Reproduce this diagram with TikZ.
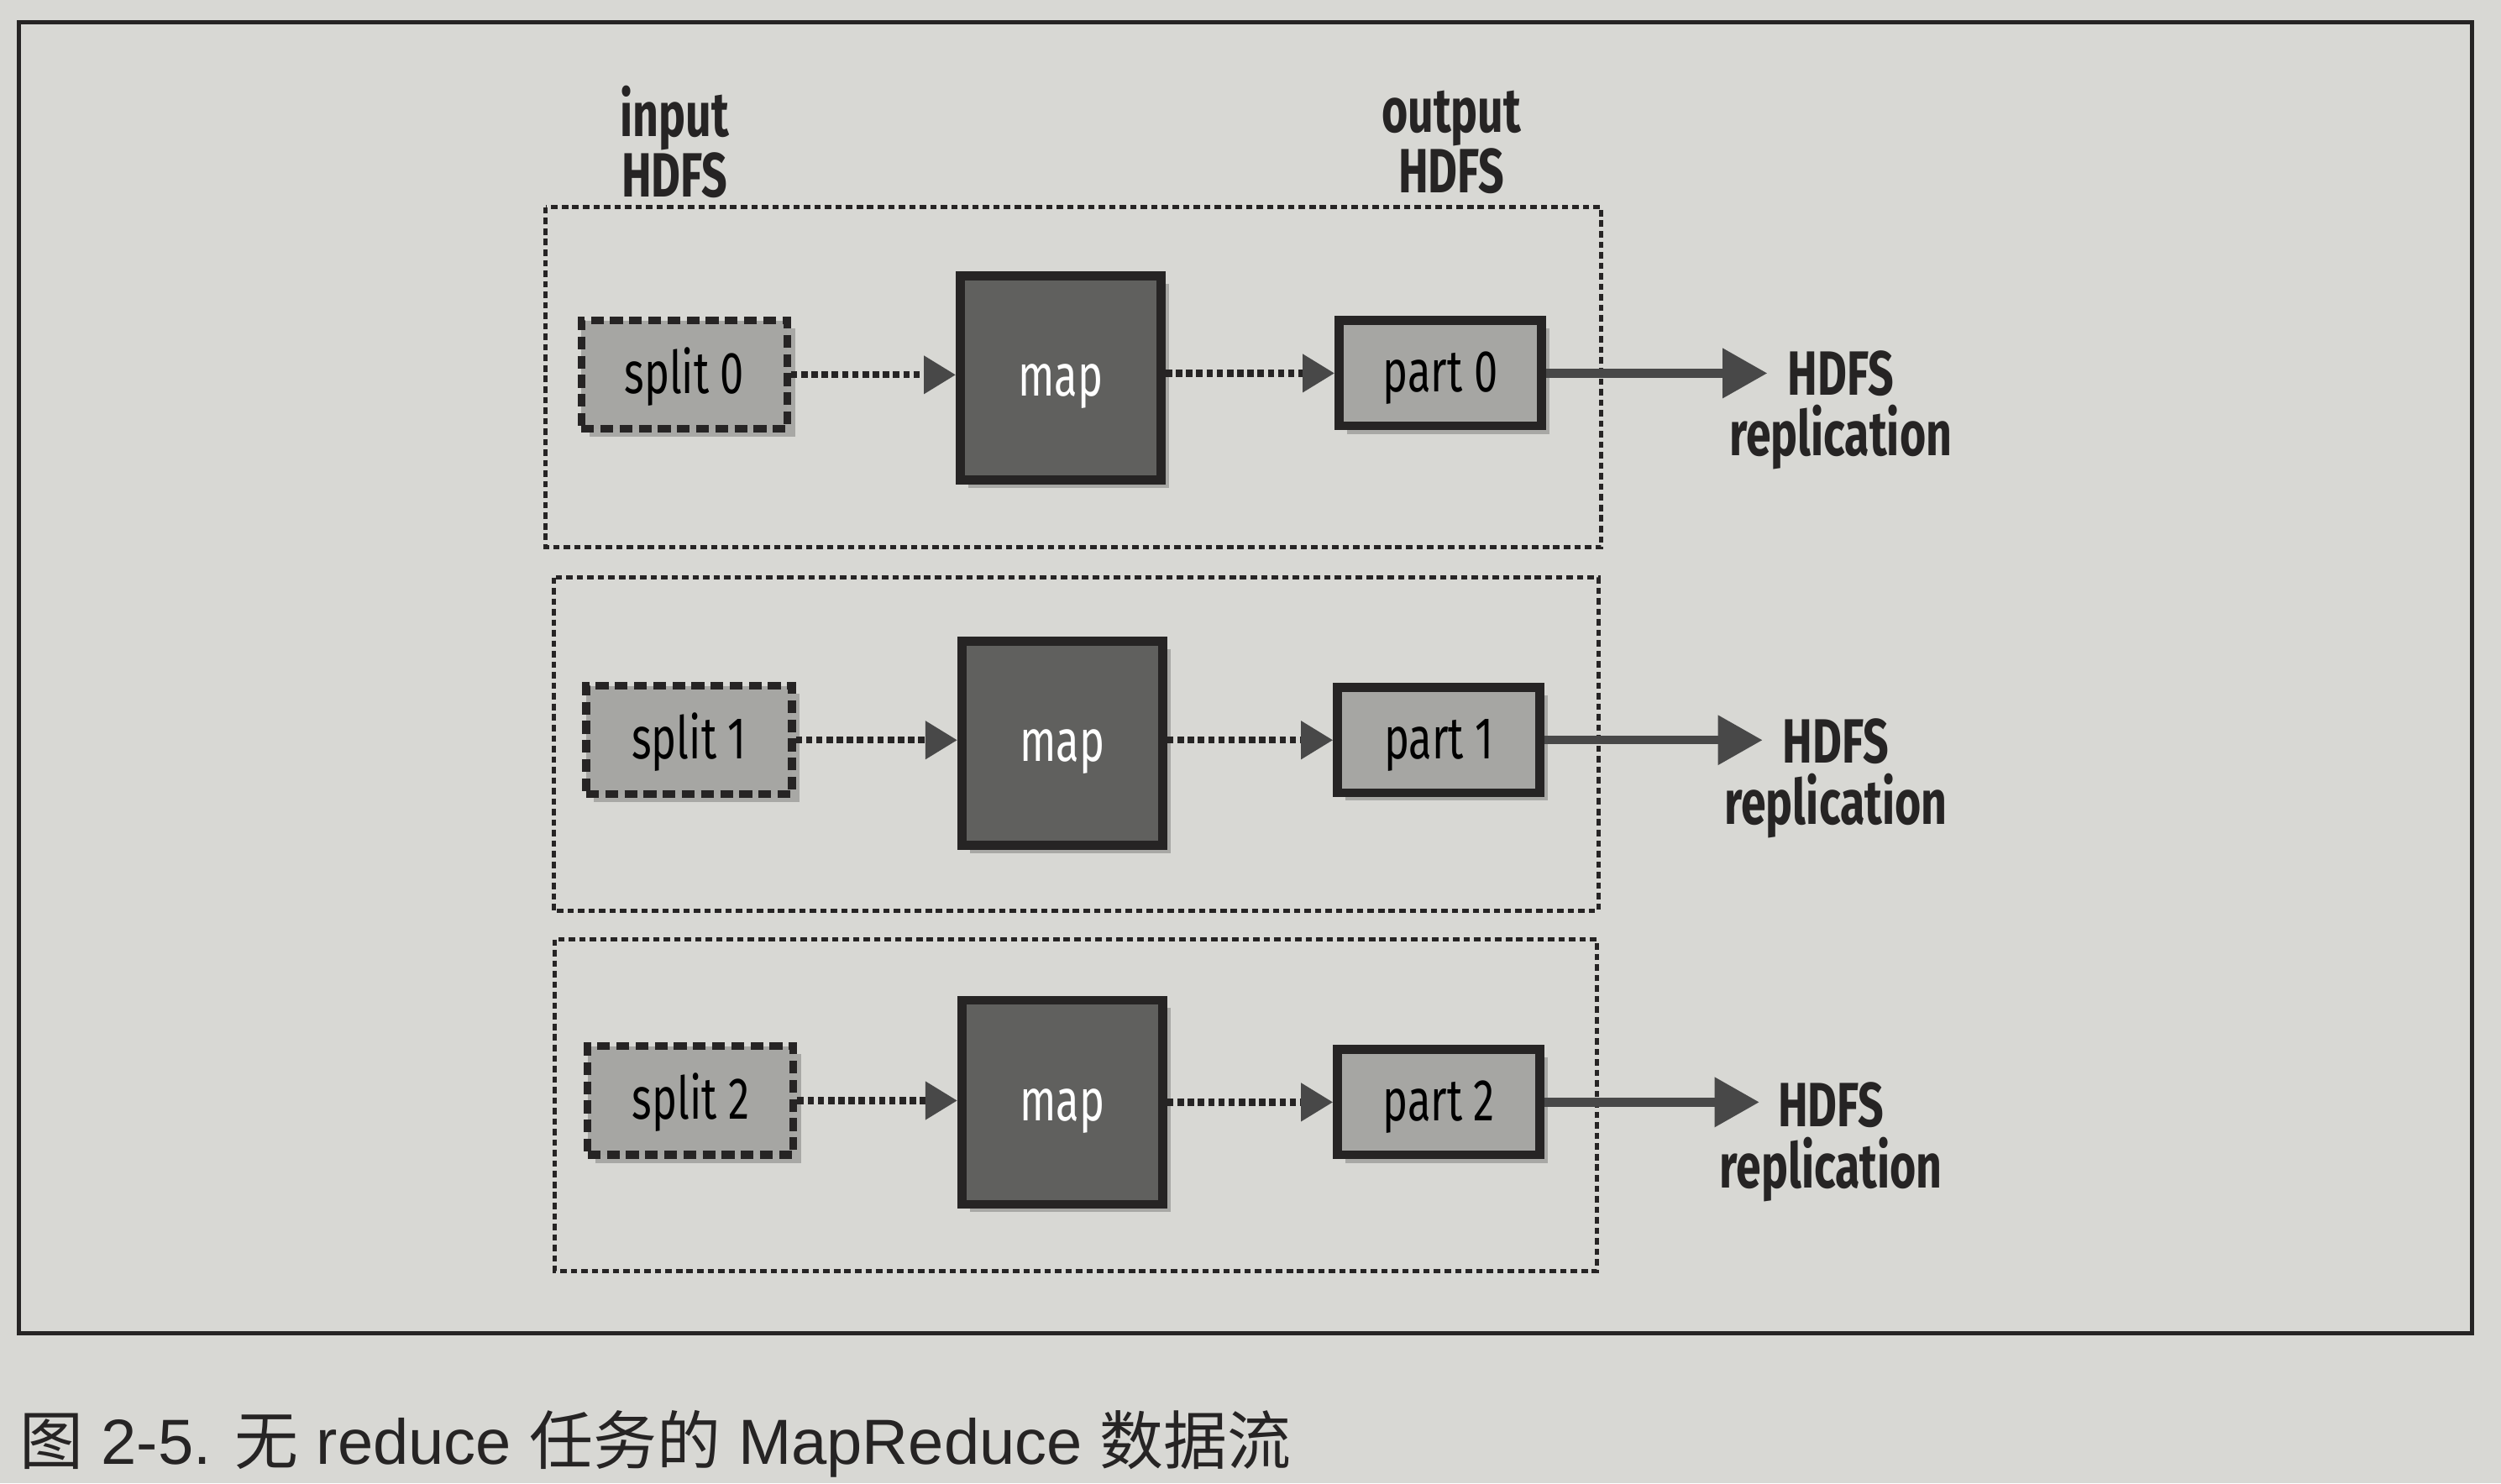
\documentclass[tikz,border=0pt]{standalone}
\usepackage{fontspec}
\setmainfont{Fira Sans}[FakeStretch=0.72]
\newfontfamily\capfont{Liberation Sans}
\newfontfamily\cjk{Noto Sans CJK SC}
\usetikzlibrary{arrows.meta,shadows}
\definecolor{paper}{RGB}{216,216,212}
\definecolor{ink}{RGB}{38,36,36}
\definecolor{light}{RGB}{166,166,163}
\definecolor{dark}{RGB}{96,96,94}
\definecolor{arrowgray}{RGB}{72,72,72}
\tikzset{
  boxshadow/.style={drop shadow={shadow xshift=2.5pt,shadow yshift=-2.5pt,opacity=0.22,fill=black}},
  nodefont/.style={font=\fontsize{18.5}{20}\selectfont, text height=16pt, text depth=4.5pt},
  splitbox/.style={draw=ink, fill=light, line width=2.4pt, dash pattern=on 4pt off 2pt,
    minimum width=64.5pt, minimum height=34pt, inner sep=0pt, nodefont, boxshadow},
  partbox/.style={draw=ink, fill=light, line width=2.8pt,
    minimum width=63.5pt, minimum height=33pt, inner sep=0pt, nodefont, boxshadow},
  mapbox/.style={draw=ink, fill=dark, line width=2.8pt, text=white,
    minimum width=63pt, minimum height=64pt, inner sep=0pt, nodefont, boxshadow},
  group/.style={draw=ink, line width=1.3pt, dash pattern=on 2pt off 1.3pt},
  flow/.style={draw=ink, line width=2.2pt, dash pattern=on 2pt off 1.2pt,
    -{Triangle[length=10pt,width=11.5pt,color=arrowgray]}},
  repl/.style={draw=arrowgray, line width=2.7pt,
    -{Triangle[length=14pt,width=15pt,color=arrowgray]}},
  lab/.style={align=center, inner sep=0pt, text=ink,
    font=\bfseries\fontsize{19.6}{19}\selectfont},
}
\begin{document}
\begin{tikzpicture}[x=0.5pt,y=-0.5pt]
\useasboundingbox (0,0) rectangle (1568,930);
\fill[paper] (0,0) rectangle (1568,930);
\draw[ink, line width=1.3pt] (12,14) rectangle (1550,836);

% group containers
\draw[group] (342,130) rectangle (1004,343);
\draw[group] (347,362) rectangle (1002,571);
\draw[group] (348,589) rectangle (1001,797);

% top labels
\node[lab] (inlab) at (423,89) {input\\HDFS};
\node[lab] (outlab) at (910,89) {output\\HDFS};

% row 0
\node[splitbox] (s0) at (429,235) {split 0};
\node[mapbox]   (m0) at (665,237) {map};
\node[partbox]  (p0) at (903,234) {part 0};
\coordinate (h0) at (1108,234);
\draw[flow] (s0.east) -- (m0.west |- s0.east);
\draw[flow] (m0.east |- p0.west) -- (p0.west);
\draw[repl] (p0.east) -- (h0);
\node[lab] (r0) at (1154,257) {HDFS\\replication};

% row 1
\node[splitbox] (s1) at (432,464) {split 1};
\node[mapbox]   (m1) at (666,466) {map};
\node[partbox]  (p1) at (902,464) {part 1};
\coordinate (h1) at (1105,464);
\draw[flow] (s1.east) -- (m1.west |- s1.east);
\draw[flow] (m1.east |- p1.west) -- (p1.west);
\draw[repl] (p1.east) -- (h1);
\node[lab] (r1) at (1151,488) {HDFS\\replication};

% row 2
\node[splitbox] (s2) at (433,690) {split 2};
\node[mapbox]   (m2) at (666,691) {map};
\node[partbox]  (p2) at (902,691) {part 2};
\coordinate (h2) at (1103,691);
\draw[flow] (s2.east) -- (m2.west |- s2.east);
\draw[flow] (m2.east |- p2.west) -- (p2.west);
\draw[repl] (p2.east) -- (h2);
\node[lab] (r2) at (1148,716) {HDFS\\replication};

% caption
\node[anchor=base west, inner sep=0pt, text=ink, font=\capfont\fontsize{20}{24}\selectfont]
  (cap) at (12,918) {{\cjk 图} 2-5. {\cjk 无} reduce {\cjk 任务的} MapReduce {\cjk 数据流}};
\end{tikzpicture}
\end{document}
